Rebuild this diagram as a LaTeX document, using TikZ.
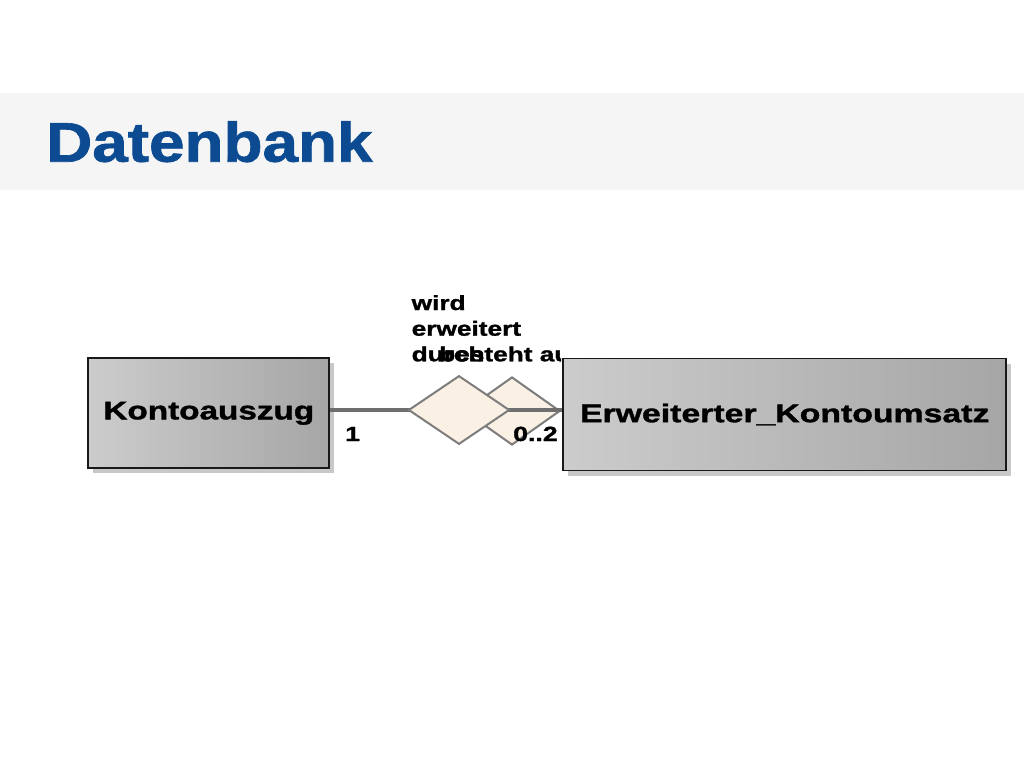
\documentclass[tikz,border=0pt]{standalone}
\usepackage{fontspec}
\usepackage{graphicx}
\setmainfont{Liberation Sans}
\newfontfamily\heavyfont[FakeBold=1.2]{Liberation Sans Bold}
\usetikzlibrary{shapes.geometric,shadows}
\pgfdeclarelayer{bg}
\pgfsetlayers{bg,main}
\definecolor{titleblue}{RGB}{12,75,145}
\definecolor{bandgray}{RGB}{245,245,245}
\definecolor{boxlight}{RGB}{204,204,204}
\definecolor{boxdark}{RGB}{166,166,166}
\definecolor{boxborder}{RGB}{25,25,25}
\definecolor{shadowgray}{RGB}{200,200,200}
\definecolor{relfill}{RGB}{250,240,227}
\definecolor{relborder}{RGB}{125,125,125}
\definecolor{connline}{RGB}{110,110,110}
\tikzset{
  entity/.style={draw=boxborder, line width=1.8pt, left color=boxlight, right color=boxdark,
    drop shadow={shadow xshift=5pt, shadow yshift=-5pt, fill=shadowgray, opacity=1},
    inner sep=0pt, font=\fontsize{25.6}{30}\selectfont\heavyfont},
  relation/.style={diamond, draw=relborder, fill=relfill, line width=2pt, inner sep=0pt},
  conn/.style={draw=connline, line width=4pt},
  lbl/.style={inner sep=0pt, anchor=base west, font=\fontsize{20.5}{25}\selectfont\heavyfont}
}
\begin{document}
\begin{tikzpicture}[x=1pt,y=-1pt]
\useasboundingbox (0,0) rectangle (1024,768);
\begin{pgfonlayer}{bg}
  \fill[white] (0,0) rectangle (1024,768);
  \fill[bandgray] (0,93) rectangle (1024,190);
  \node[anchor=base west, inner sep=0pt, text=titleblue, font=\fontsize{56}{60}\selectfont\heavyfont] (title) at (46,161.7) {\scalebox{1.14}[1]{Datenbank}};
  \node[lbl] (wird) at (411.5,310) {\scalebox{1.28}[1]{wird}};
  \node[lbl] (erw1) at (411.5,335.7) {\scalebox{1.28}[1]{erweitert}};
  \node[lbl] (durch) at (411.5,361.3) {\scalebox{1.28}[1]{durch}};
  \begin{scope}
    \clip (400,330) rectangle (561,370);
    \node[lbl] (besteht) at (439,361.3) {\scalebox{1.28}[1]{besteht aus}};
  \end{scope}
\end{pgfonlayer}
\node[entity, minimum width=241pt, minimum height=110pt] (kont) at (208.8,413.3) {\scalebox{1.3}[1]{Kontoauszug}};
\node[entity, minimum width=443pt, minimum height=112pt] (erw) at (784.7,414.5) {\scalebox{1.32}[1]{Erweiterter\_Kontoumsatz}};
\node[relation, minimum width=96pt, minimum height=68pt] (d2) at (512,411) {};
\draw[conn] (kont.east |- 0,410) -- (erw.west |- 0,410);
\node[relation, minimum width=101pt, minimum height=68.6pt] (d1) at (459,410) {};
\node[lbl] (one) at (345,441) {\scalebox{1.3}[1]{1}};
\node[lbl] (card) at (513,441) {\scalebox{1.3}[1]{0..2}};
\end{tikzpicture}
\end{document}
